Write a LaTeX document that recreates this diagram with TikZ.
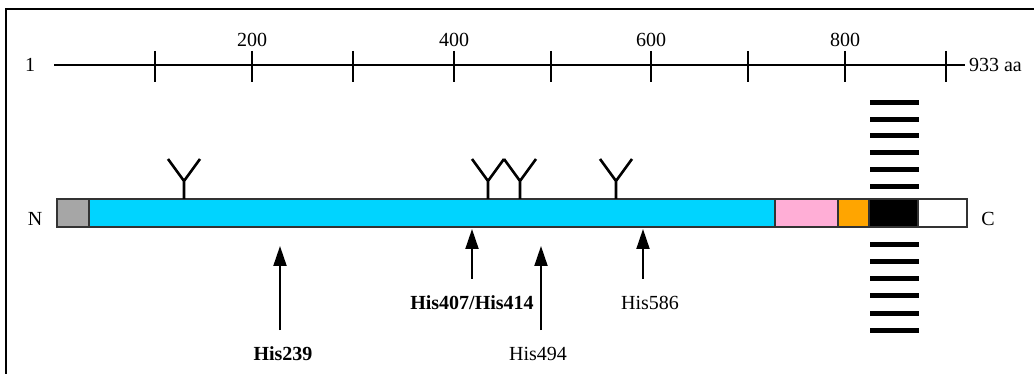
\documentclass[tikz,border=0pt]{standalone}
\usepackage{fontspec}
\setmainfont{Liberation Serif}
\usetikzlibrary{arrows.meta}
\definecolor{sigGray}{RGB}{166,166,166}
\definecolor{catCyan}{RGB}{0,212,255}
\definecolor{linkPink}{RGB}{255,174,214}
\definecolor{stemOrange}{RGB}{255,165,0}
\begin{document}
\begin{tikzpicture}[x=1pt, y=1pt, yscale=-1, inner sep=0pt, outer sep=0pt,
  font=\fontsize{20}{24}\selectfont,
  protseg/.style={draw=black!80, line width=1.5pt},
  ruler/.style={draw=black, line width=1.8pt},
  glyco/.style={draw=black, line width=2.6pt},
  memb/.style={draw=black, line width=5pt},
  hisarrow/.style={draw=black, line width=2pt, -{Triangle[length=20pt,width=13pt]}}]
\useasboundingbox (0,0) rectangle (1034,374);
% frame
\path[draw=black, line width=2pt] (6,390) -- (6,9) -- (1045,9);
% scale bar
\path[ruler] (54,65) -- (965,65);
\foreach \tx in {155,252,353,454,551,651,748,845,946}
  \path[ruler] (\tx,51) -- (\tx,82);
\node[anchor=base] (one) at (30,72) {1};
\node[anchor=base] (s200) at (252,47) {200};
\node[anchor=base] (s400) at (454,47) {400};
\node[anchor=base] (s600) at (651,47) {600};
\node[anchor=base] (s800) at (845,47) {800};
\node[anchor=base west] (aa) at (969,72) {933 aa};
% membrane stripes
\foreach \sy in {103,120,136,153,170,187,245,262,279,296,313,330}
  \path[memb] (870,\sy) -- (919,\sy);
% protein segments
\path[protseg, fill=sigGray] (57,199) rectangle (89,227);
\path[protseg, fill=catCyan] (89,199) rectangle (775,227);
\path[protseg, fill=linkPink] (775,199) rectangle (838,227);
\path[protseg, fill=stemOrange] (838,199) rectangle (869,227);
\path[protseg, fill=black] (869,199) rectangle (918,227);
\path[protseg, fill=white] (918,199) rectangle (967,227);
\node[anchor=base] (nterm) at (35,226) {N};
\node[anchor=base] (cterm) at (988,226) {C};
% glycosylation sites
\foreach \gx in {184,488,520,616}
  \path[glyco] (\gx,199) -- (\gx,181) -- ++(-16,-22) (\gx,181) -- ++(16,-22);
% histidines
\node[anchor=base, font=\fontsize{20}{24}\selectfont\bfseries] (h239) at (283,360) {His239};
\node[anchor=base, font=\fontsize{20}{24}\selectfont\bfseries] (h407) at (472,309) {His407/His414};
\node[anchor=base] (h494) at (538,360) {His494};
\node[anchor=base] (h586) at (650,309) {His586};
\coordinate (a239) at (280,330);
\coordinate (t239) at (280,246);
\coordinate (a407) at (472,279);
\coordinate (t407) at (472,229);
\coordinate (a494) at (541,330);
\coordinate (t494) at (541,246);
\coordinate (a586) at (643,279);
\coordinate (t586) at (643,229);
\path[hisarrow] (a239) -- (t239);
\path[hisarrow] (a407) -- (t407);
\path[hisarrow] (a494) -- (t494);
\path[hisarrow] (a586) -- (t586);
\end{tikzpicture}
\end{document}
